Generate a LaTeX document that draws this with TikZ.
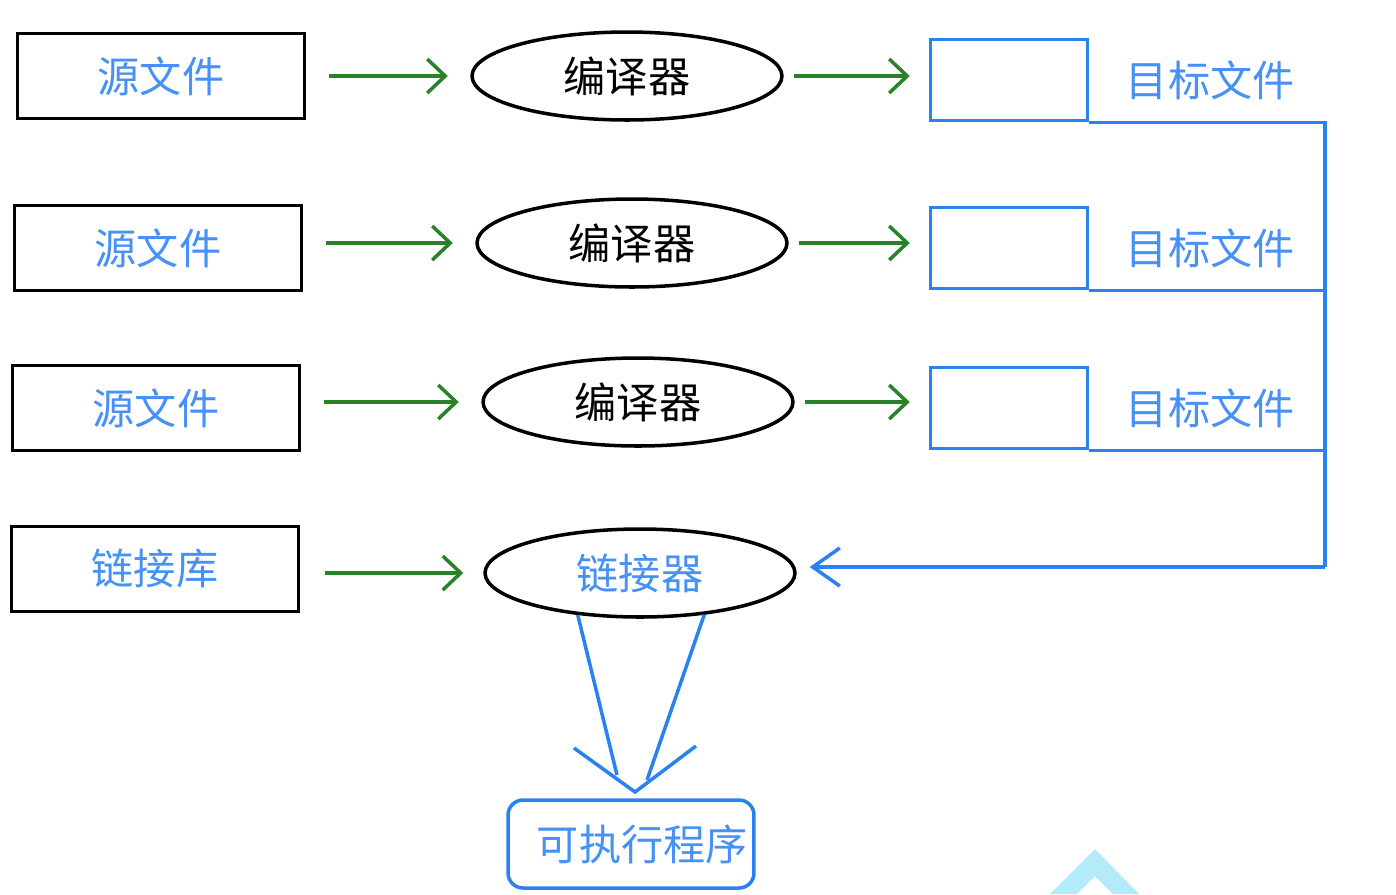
\documentclass[tikz,border=0pt]{standalone}
\usepackage{fontspec}
\newfontfamily\cjk{Noto Sans CJK SC}
\usetikzlibrary{shapes.geometric,arrows.meta,positioning}
\definecolor{lineblue}{RGB}{40,130,240}
\definecolor{textblue}{RGB}{70,145,245}
\definecolor{flowgreen}{RGB}{40,130,40}
\definecolor{markcyan}{RGB}{180,235,250}
\begin{document}
\begin{tikzpicture}[x=0.02cm,y=-0.02cm,line width=2pt,font=\cjk\fontsize{24}{28}\selectfont]
    \tikzstyle{srcbox}=[rectangle,draw=black,minimum width=5.74cm,minimum height=1.7cm,text=textblue]
    \tikzstyle{tool}=[ellipse,draw=black,minimum width=6.2cm,minimum height=1.76cm,inner sep=0pt]
    \tikzstyle{objbox}=[rectangle,draw=lineblue,minimum width=3.14cm,minimum height=1.62cm]
    \tikzstyle{flow}=[draw=flowgreen,-{Straight Barb[length=0.36cm,width=0.68cm]}]
    \tikzstyle{blueline}=[draw=lineblue]
    \useasboundingbox (0,0) rectangle (1396,894);

    % source files, compilers and object files
    \foreach \i/\sx/\sy/\cx/\cy/\oy in {1/161/76/627/76/80, 2/158/248/632/243/248, 3/156/408/638/402/408}
    {
    \node[srcbox] (S-\i) at (\sx,\sy) {源文件};
    \node[tool] (C-\i) at (\cx,\cy) {编译器};
    \node[objbox] (O-\i) at (1009,\oy) {};
    \node[text=textblue, right=0.58cm of O-\i] (T-\i) {目标文件};
    \path[flow,shorten <=0.45cm,shorten >=0.45cm] (C-\i.west -| S-\i.east) -- (C-\i.west);
    \path[flow,shorten <=0.2cm,shorten >=0.38cm] (C-\i.east) -- (C-\i.east -| O-\i.west);
    }

    % library and linker
    \node[srcbox] (Lib) at (155,569) {链接库};
    \node[tool,text=textblue] (L) at (640,573) {链接器};
    \path[flow,shorten <=0.5cm,shorten >=0.4cm] (L.west -| Lib.east) -- (L.west);

    % object files collected into the linker
    \coordinate (bus) at (1325,567);
    \foreach \i in {1,2,3}
    \draw[blueline] (O-\i.south east) -| (bus);
    \draw[blueline,-{Straight Barb[length=0.54cm,width=0.76cm]}] (bus) -- ([xshift=0.26cm]bus -| L.east);

    % executable
    \node[rectangle,rounded corners=0.3cm,draw=lineblue,text=textblue,
          minimum width=4.92cm,minimum height=1.76cm] (E) at (631,844) {\hspace*{0.45cm}可执行程序};
    \coordinate (tip) at (635,792);
    \draw[blueline] (L.214) -- ([shift={(-18,-17)}]tip);
    \draw[blueline] (L.327) -- ([shift={(12,-12)}]tip);
    \draw[blueline] ([shift={(-61,-44)}]tip) -- (tip) -- ([shift={(61,-46)}]tip);

    % corner mark
    \fill[markcyan] (1050,894) -- (1095,849) -- (1139,894) -- (1113,894) -- (1095,876) -- (1077,894) -- cycle;
\end{tikzpicture}
\end{document}
